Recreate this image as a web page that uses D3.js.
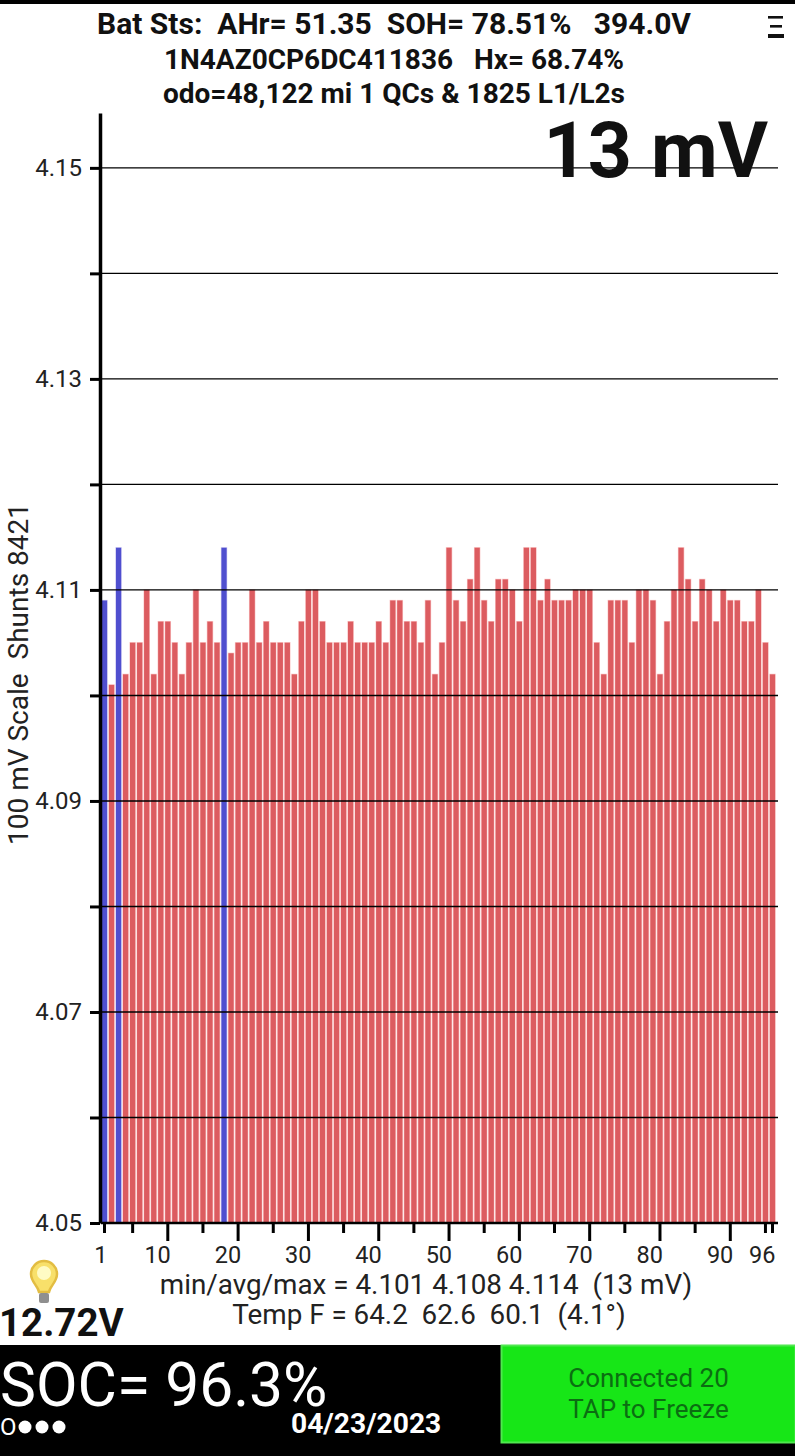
<!DOCTYPE html>
<html>
<head>
<meta charset="utf-8">
<script src="https://cdn.jsdelivr.net/npm/d3@7"></script>
<style>
  html, body { margin: 0; padding: 0; background: #fff; }
  svg { display: block; font-family: Roboto, sans-serif; }
  text { white-space: pre; }
</style>
</head>
<body>
<script>
const width = 795, height = 1456

// cell voltages, pack order 1..96
const cellVolts = [
  4.109, 4.101, 4.114, 4.102, 4.105, 4.105, 4.110, 4.102, 4.107, 4.107,
  4.105, 4.102, 4.105, 4.110, 4.105, 4.107, 4.105, 4.114, 4.104, 4.105,
  4.105, 4.110, 4.105, 4.107, 4.105, 4.105, 4.105, 4.102, 4.107, 4.110,
  4.110, 4.107, 4.105, 4.105, 4.105, 4.107, 4.105, 4.105, 4.105, 4.107,
  4.105, 4.109, 4.109, 4.107, 4.107, 4.105, 4.109, 4.102, 4.105, 4.114,
  4.109, 4.107, 4.111, 4.114, 4.109, 4.107, 4.111, 4.111, 4.110, 4.107,
  4.114, 4.114, 4.109, 4.111, 4.109, 4.109, 4.109, 4.110, 4.110, 4.110,
  4.105, 4.102, 4.109, 4.109, 4.109, 4.105, 4.110, 4.110, 4.109, 4.102,
  4.107, 4.110, 4.114, 4.111, 4.107, 4.111, 4.110, 4.107, 4.110, 4.109,
  4.109, 4.107, 4.107, 4.110, 4.105, 4.102
]
// cells with the shunt on, drawn blue
const shuntCells = [1, 3, 18]
const yTicks = [4.05, 4.06, 4.07, 4.08, 4.09, 4.10, 4.11, 4.12, 4.13, 4.14, 4.15]
const yLabels = [4.05, 4.07, 4.09, 4.11, 4.13, 4.15]
const xTicks = [1, 5, 10, 15, 20, 25, 30, 35, 40, 45, 50, 55, 60, 65, 70, 75, 80, 85, 90, 95, 96]
const xLabels = [1, 10, 20, 30, 40, 50, 60, 70, 80, 90, 96]
const headerLines = [
  'Bat Sts:  AHr= 51.35  SOH= 78.51%   394.0V',
  '1N4AZ0CP6DC411836   Hx= 68.74%',
  'odo=48,122 mi 1 QCs & 1825 L1/L2s'
]

const svg = d3.select('body').append('svg')
  .attr('width', width)
  .attr('height', height)

const x = d3.scaleBand().domain(d3.range(1, 97)).range([101, 776]).paddingInner(0.25).paddingOuter(0.125)
const y = d3.scaleLinear().domain([4.05, 4.1552]).range([1223, 113])

// bars
svg.append('g').selectAll('rect').data(cellVolts).enter().append('rect')
  .attr('x', (d, i) => x(i + 1))
  .attr('y', d => y(d))
  .attr('width', x.bandwidth())
  .attr('height', d => y(4.05) - y(d))
  .attr('fill', (d, i) => shuntCells.includes(i + 1) ? '#4f4fcf' : '#dc5c60')
  .attr('stroke', (d, i) => shuntCells.includes(i + 1) ? '#d8d4f4' : '#fbcaca')
  .attr('stroke-width', 1.2)
  .style('paint-order', 'stroke')

// grid over the bars
svg.append('g').selectAll('line').data(yTicks.slice(1)).enter().append('line')
  .attr('x1', 101).attr('x2', 778)
  .attr('y1', d => y(d)).attr('y2', d => y(d))
  .attr('stroke', '#000').attr('stroke-width', 1.4)

// y axis
const yAxis = svg.append('g').attr('transform', 'translate(100,0)')
  .call(d3.axisLeft(y).tickValues(yTicks).tickSize(10).tickSizeOuter(0).tickPadding(8)
    .tickFormat(d => yLabels.includes(d) ? d3.format('.2f')(d) : ''))
yAxis.select('.domain').attr('stroke-width', 3.5)
yAxis.selectAll('.tick line').attr('stroke-width', 3)
yAxis.selectAll('.tick text').attr('font-size', 24).attr('font-family', 'Roboto').attr('fill', '#222')

// x axis
const xAxis = svg.append('g').attr('transform', 'translate(0,1223)')
  .call(d3.axisBottom(x).tickValues(xTicks).tickSize(0).tickPadding(23)
    .tickFormat(d => xLabels.includes(d) ? d : ''))
xAxis.select('.domain').attr('d', 'M101,0H778').attr('stroke-width', 2.5)
xAxis.selectAll('.tick line')
  .attr('stroke-width', 3)
  .attr('y2', d => d % 10 === 0 ? 18 : 10)
xAxis.selectAll('.tick text')
  .attr('font-size', 23.5).attr('font-family', 'Roboto').attr('fill', '#222')
  .attr('text-anchor', 'end').attr('x', 3)

// top strip + header
svg.append('rect').attr('width', width).attr('height', 4).attr('fill', '#000')
svg.append('g').selectAll('text').data(headerLines).enter().append('text')
  .attr('x', 394)
  .attr('y', (d, i) => 34 + i * 34.7)
  .attr('text-anchor', 'middle')
  .attr('font-size', (d, i) => i === 0 ? 30 : 28).attr('font-weight', 700).attr('fill', '#111')
  .text(d => d)

// menu icon
svg.append('g').selectAll('rect').data([0, 1, 2]).enter().append('rect')
  .attr('x', d => d === 1 ? 770 : 768).attr('y', d => [16, 25, 34][d])
  .attr('width', d => d === 1 ? 12 : d === 0 ? 15 : 16).attr('height', d => d === 2 ? 4 : 2.6)
  .attr('fill', '#111')

svg.append('text').attr('x', 768).attr('y', 177)
  .attr('text-anchor', 'end')
  .attr('font-size', 77).attr('font-weight', 700).attr('fill', '#111')
  .text('13 mV')

svg.append('text')
  .attr('transform', 'translate(28,845) rotate(-90)')
  .attr('font-size', 28).attr('fill', '#222')
  .text('100 mV Scale  Shunts 8421')

// stats under the chart
svg.append('text').attr('x', 426).attr('y', 1294).attr('text-anchor', 'middle')
  .attr('font-size', 27.8).attr('fill', '#222')
  .text('min/avg/max = 4.101 4.108 4.114  (13 mV)')
svg.append('text').attr('x', 429).attr('y', 1324).attr('text-anchor', 'middle')
  .attr('font-size', 27.8).attr('fill', '#222')
  .text('Temp F = 64.2  62.6  60.1  (4.1°)')

// bulb
const bulb = svg.append('g').attr('transform', 'translate(44,1275)')
bulb.append('path')
  .attr('d', 'M-5,17 C-6,11 -13,7 -13,-1 A13,13 0 1 1 13,-1 C13,7 6,11 5,17 Z')
  .attr('fill', '#f8e06a').attr('stroke', '#e3bd42').attr('stroke-width', 2.5)
bulb.append('circle').attr('cx', 0).attr('cy', -2).attr('r', 7).attr('fill', '#fffbc4')
bulb.append('rect').attr('x', -5).attr('y', 18).attr('width', 10).attr('height', 10).attr('rx', 2).attr('fill', '#8f8f8f')

svg.append('text').attr('x', -1).attr('y', 1336)
  .attr('font-size', 38.5).attr('font-weight', 700).attr('fill', '#111')
  .text('12.72V')

// bottom panel
svg.append('rect').attr('x', 0).attr('y', 1345).attr('width', width).attr('height', 111).attr('fill', '#000')
svg.append('rect').attr('x', 501.5).attr('y', 1345.5).attr('width', 294).attr('height', 97)
  .attr('fill', '#17e617').attr('stroke', '#4fe84f').attr('stroke-width', 2)
svg.append('g').selectAll('text').data(['Connected 20', 'TAP to Freeze']).enter().append('text')
  .attr('x', 648.5)
  .attr('y', (d, i) => 1387 + i * 31)
  .attr('text-anchor', 'middle')
  .attr('font-size', 26).attr('fill', '#0b6e12')
  .text(d => d)

svg.append('text').attr('x', 0).attr('y', 1406)
  .attr('font-size', 60.5).attr('fill', '#fff')
  .text('SOC= 96.3%')
svg.append('text').attr('x', 0).attr('y', 1435)
  .attr('font-size', 24).attr('fill', '#fff')
  .text('O')
svg.append('g').selectAll('circle').data([0, 1, 2]).enter().append('circle')
  .attr('cx', d => 25 + d * 17).attr('cy', 1427).attr('r', 6.5).attr('fill', '#fff')
svg.append('text').attr('x', 291).attr('y', 1433)
  .attr('font-size', 28.2).attr('font-weight', 700).attr('fill', '#fff')
  .text('04/23/2023')
</script>
</body>
</html>
